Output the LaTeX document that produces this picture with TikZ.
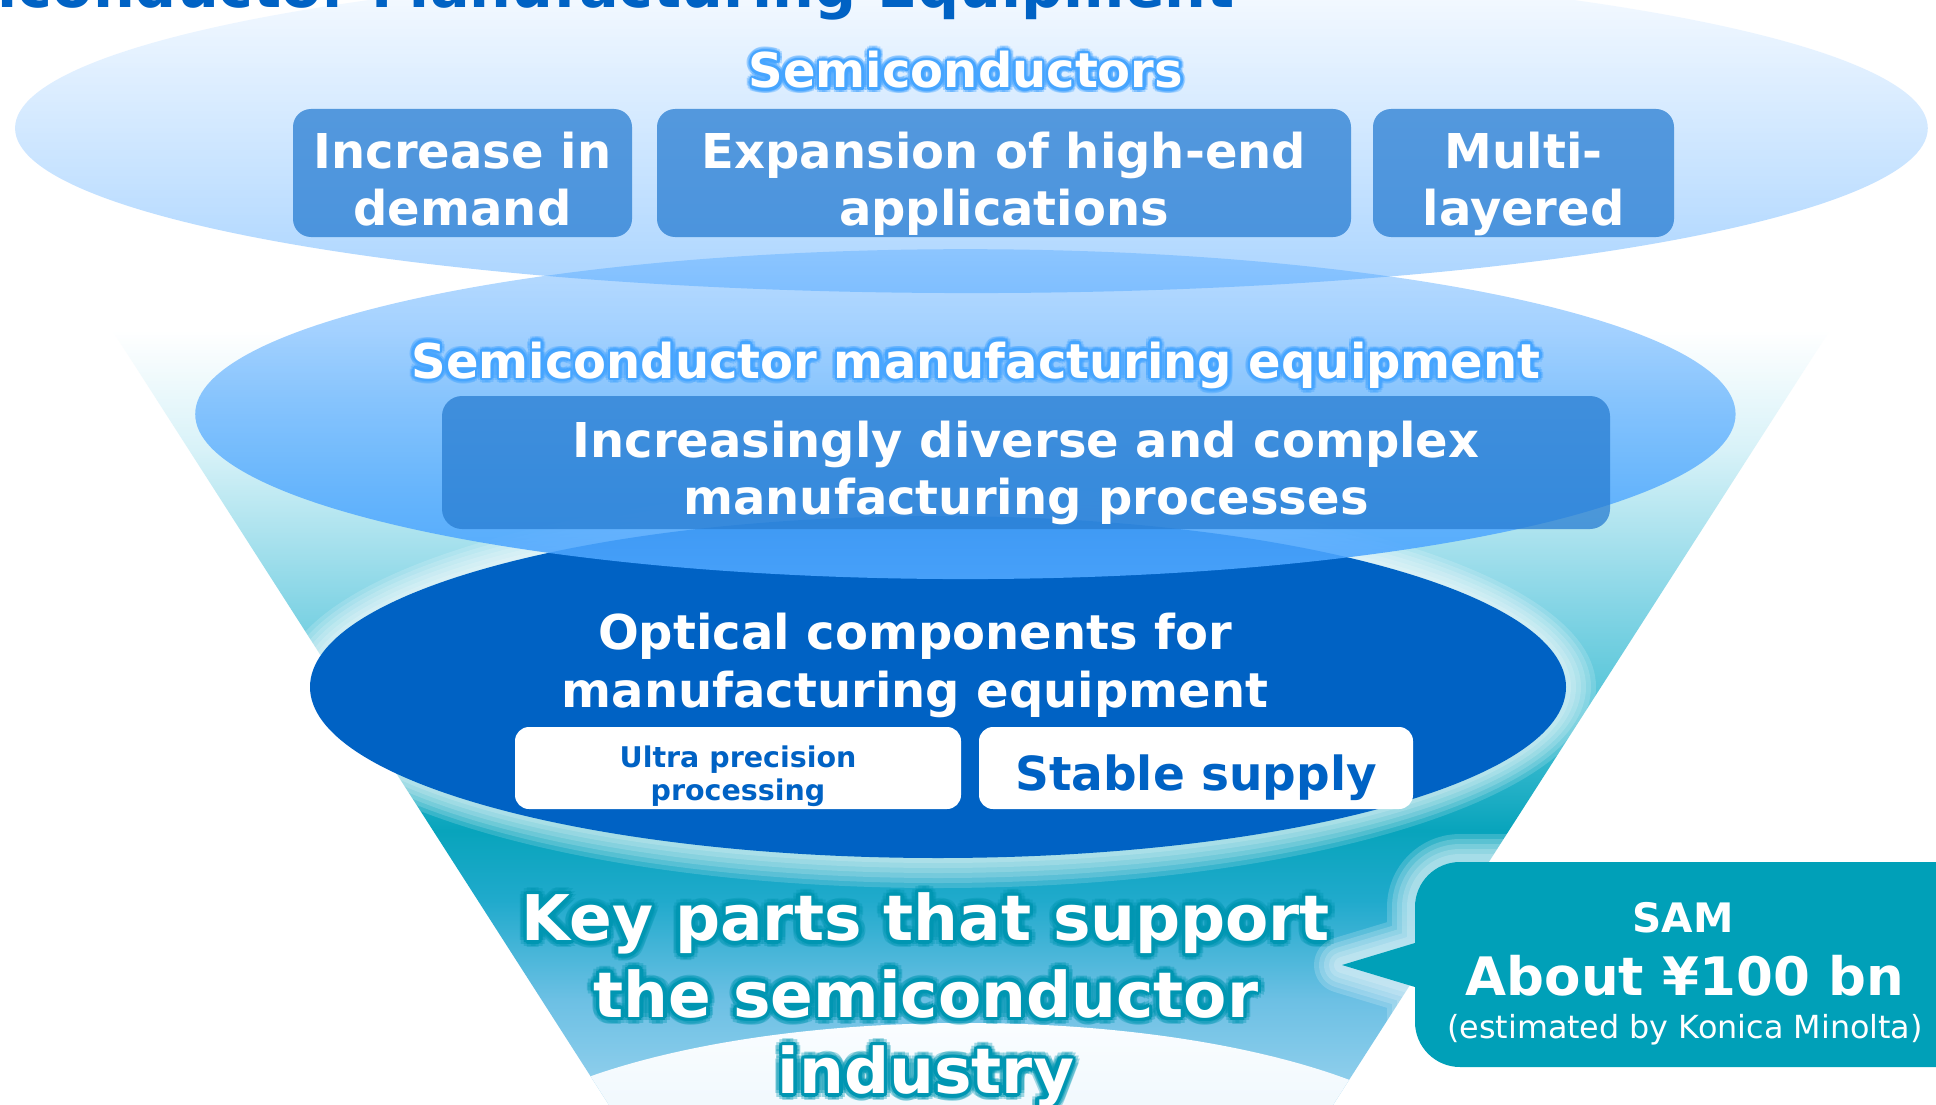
\documentclass[tikz,border=0pt]{standalone}
\usepackage{fontspec}
\setmainfont{DejaVu Sans}
\usetikzlibrary{fadings}
\definecolor{titleblue}{RGB}{0,98,196}
\definecolor{darkblue}{RGB}{0,98,196}
\definecolor{ellblue}{RGB}{77,166,255}
\definecolor{boxblue}{RGB}{40,125,210}
\definecolor{samteal}{RGB}{0,160,184}
\definecolor{glowblue}{RGB}{70,165,255}
\definecolor{glowteal}{RGB}{0,150,178}
\definecolor{lighttop}{RGB}{250,253,255}
\definecolor{lightbot}{RGB}{214,236,248}
\definecolor{fun0}{RGB}{152,210,238}
\definecolor{fun1}{RGB}{108,192,228}
\definecolor{fun2}{RGB}{32,170,204}
\definecolor{fun3}{RGB}{8,164,188}
\definecolor{fun4}{RGB}{76,194,214}
\definecolor{fun5}{RGB}{136,214,230}
\definecolor{fun6}{RGB}{216,242,248}
\pgfdeclareverticalshading{funnelshade}{100bp}{color(0bp)=(fun0); color(25bp)=(fun0); color(31.8bp)=(fun1); color(38.2bp)=(fun2); color(42.7bp)=(fun3); color(49.8bp)=(fun4); color(57.6bp)=(fun5); color(67.3bp)=(fun6); color(75bp)=(white); color(100bp)=(white)}
\tikzfading[name=topfade, top color=transparent!98, bottom color=transparent!52]
\tikzfading[name=midfade, top color=transparent!62, bottom color=transparent!8]

\begin{document}
\begin{tikzpicture}[x=1pt,y=-1pt,
    titletext/.style={font=\bfseries\fontsize{58.8}{70}\selectfont, text=titleblue, inner sep=0pt},
    headtext/.style={font=\bfseries\fontsize{48}{57}\selectfont, text=white, inner sep=0pt, anchor=base},
    topbox/.style={font=\bfseries\fontsize{48}{57}\selectfont, text=white, align=center, fill=boxblue, fill opacity=0.75, text opacity=1, rounded corners=18pt, inner sep=0pt, text height=115pt, text depth=11pt},
    whitebox/.style={fill=white, rounded corners=14pt, text=darkblue, align=center, inner sep=0pt},
    keytext/.style={font=\bfseries\fontsize{63}{76.5}\selectfont, text=white, align=center, inner sep=0pt},
    samtext/.style={text=white, inner sep=0pt, anchor=base}]
    \useasboundingbox (0,0) rectangle (1936,1105);
    \clip (0,0) rectangle (1936,1105);
    \fill[white] (0,0) rectangle (1936,1105);

    \shade[shading=funnelshade] (112,330) -- (1830,330) -- (1333,1105) -- (609,1105) -- cycle;
    \begin{scope}
        \clip (112,330) -- (1830,330) -- (1333,1105) -- (609,1105) -- cycle;
        \shade[top color=lighttop, bottom color=lightbot] (965,1185) ellipse [x radius=505, y radius=162];
    \end{scope}

    \foreach \r in {30,25,20,15,10,5}
        \fill[white, opacity=0.16] (938,687) ellipse [x radius=628+\r, y radius=171+\r];
    \fill[darkblue] (938,687) ellipse [x radius=628, y radius=171];
    \fill[ellblue, path fading=midfade] (969,414) ellipse [x radius=772, y radius=165];
    \fill[ellblue, path fading=topfade] (973,128) ellipse [x radius=957, y radius=165];

    \node[topbox, minimum width=339pt, minimum height=128pt] at (462.5,173) (demand) {Increase in\\demand};
    \node[topbox, minimum width=694pt, minimum height=128pt] at (1004,173) (highend) {Expansion of high-end\\applications};
    \node[topbox, minimum width=301pt, minimum height=128pt] at (1523.5,173) (layered) {Multi-\\layered};
    \node[topbox, rounded corners=20pt, text height=114pt, minimum width=1168pt, minimum height=133pt] at (1026,462.5) (processes) {Increasingly diverse and complex\\manufacturing processes};

    \node[whitebox, minimum width=446pt, minimum height=82pt, text height=70pt, text depth=6pt, font=\bfseries\fontsize{28.5}{33}\selectfont] at (738,768) (precision) {Ultra precision\\processing};
    \node[whitebox, minimum width=434pt, minimum height=82pt, text height=55pt, font=\bfseries\fontsize{47}{56}\selectfont] at (1196,768) (supply) {Stable supply};
    \node[font=\bfseries\fontsize{48}{58}\selectfont, text=white, align=center, inner sep=0pt] at (915,665) (optical) {Optical components for\\manufacturing equipment};

    \foreach \a in {0,30,...,330} {
        \node[headtext, text=glowblue, text opacity=0.35, shift={(\a:5)}] at (966,88) (semiglowa\a) {Semiconductors};
        \node[headtext, text=glowblue, shift={(\a:2.5)}] at (966,88) (semiglowb\a) {Semiconductors};
        \node[headtext, text=glowblue, text opacity=0.35, shift={(\a:5)}] at (976,378) (equipglowa\a) {Semiconductor manufacturing equipment};
        \node[headtext, text=glowblue, shift={(\a:2.5)}] at (976,378) (equipglowb\a) {Semiconductor manufacturing equipment};
        \node[keytext, text=glowteal, text opacity=0.35, shift={(\a:7)}] at (926,1000) (keyglowa\a) {Key parts that support\\the semiconductor\\industry};
        \node[keytext, text=glowteal, shift={(\a:3.5)}] at (926,1000) (keyglowb\a) {Key parts that support\\the semiconductor\\industry};
    }
    \node[headtext] at (966,88) (semis) {Semiconductors};
    \node[headtext] at (976,378) (equipment) {Semiconductor manufacturing equipment};
    \node[keytext] at (926,1000) (keyparts) {Key parts that support\\the semiconductor\\industry};

    \foreach \w in {56,46,36,26,16}
        \draw[white, opacity=0.18, line width=\w pt, line join=round] (1980,862) -- (1460,862) arc[start angle=270, end angle=180, radius=45] -- (1415,943) -- (1342,965) -- (1415,987) -- (1415,1022) arc[start angle=180, end angle=90, radius=45] -- (1980,1067) -- cycle;
    \fill[samteal] (1980,862) -- (1460,862) arc[start angle=270, end angle=180, radius=45] -- (1415,943) -- (1342,965) -- (1415,987) -- (1415,1022) arc[start angle=180, end angle=90, radius=45] -- (1980,1067) -- cycle;
    \node[samtext, font=\bfseries\fontsize{40.6}{48}\selectfont] at (1683,932) (sam) {SAM};
    \node[samtext, font=\bfseries\fontsize{53}{64}\selectfont] at (1685,995) (samvalue) {About ¥100 bn};
    \node[samtext, font=\fontsize{31.8}{38}\selectfont] at (1685,1038) (samnote) {(estimated by Konica Minolta)};

    \node[titletext, anchor=base east] at (1235,8) (title) {Semiconductor Manufacturing Equipment};
\end{tikzpicture}
\end{document}
